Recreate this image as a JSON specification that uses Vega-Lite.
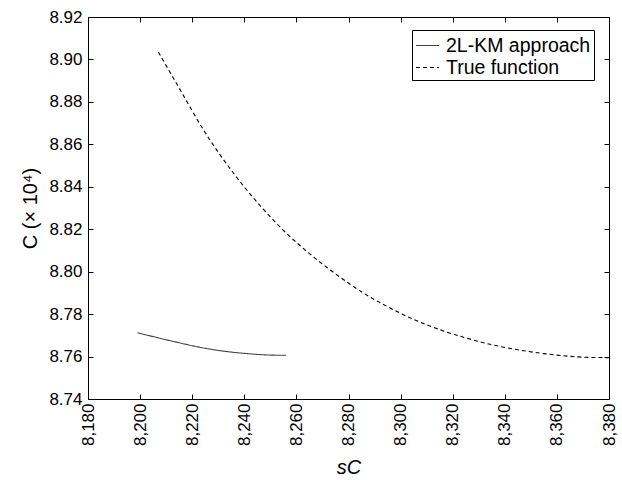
{
  "$schema": "https://vega.github.io/schema/vega-lite/v6.json",
  "width": 521,
  "height": 382,
  "autosize": "none",
  "padding": {"left": 88, "top": 17, "right": 13, "bottom": 81},
  "background": "white",
  "config": {
    "font": "Liberation Sans",
    "view": {"stroke": "black", "strokeWidth": 1},
    "axis": {"grid": false, "domain": false, "tickColor": "black", "labelColor": "black", "titleColor": "black", "labelFontSize": 17, "titleFontSize": 20, "titleFontWeight": "normal", "tickSize": -5, "labelFont": "Liberation Sans", "titleFont": "Liberation Sans"}
  },
  "data": {"values": [
    {"series": "2L-KM approach", "s": 8199, "c": 8.7712},
    {"series": "2L-KM approach", "s": 8205, "c": 8.7694},
    {"series": "2L-KM approach", "s": 8210, "c": 8.7679},
    {"series": "2L-KM approach", "s": 8215, "c": 8.7665},
    {"series": "2L-KM approach", "s": 8220, "c": 8.7651},
    {"series": "2L-KM approach", "s": 8225, "c": 8.7639},
    {"series": "2L-KM approach", "s": 8230, "c": 8.7629},
    {"series": "2L-KM approach", "s": 8235, "c": 8.7621},
    {"series": "2L-KM approach", "s": 8240, "c": 8.7615},
    {"series": "2L-KM approach", "s": 8245, "c": 8.7610},
    {"series": "2L-KM approach", "s": 8250, "c": 8.7607},
    {"series": "2L-KM approach", "s": 8256, "c": 8.7606},
    {"series": "True function", "s": 8207, "c": 8.9035},
    {"series": "True function", "s": 8215, "c": 8.8865},
    {"series": "True function", "s": 8225, "c": 8.8655},
    {"series": "True function", "s": 8235, "c": 8.8478},
    {"series": "True function", "s": 8245, "c": 8.8326},
    {"series": "True function", "s": 8255, "c": 8.8195},
    {"series": "True function", "s": 8265, "c": 8.8085},
    {"series": "True function", "s": 8275, "c": 8.7990},
    {"series": "True function", "s": 8285, "c": 8.7905},
    {"series": "True function", "s": 8295, "c": 8.7835},
    {"series": "True function", "s": 8305, "c": 8.7775},
    {"series": "True function", "s": 8315, "c": 8.7727},
    {"series": "True function", "s": 8325, "c": 8.7688},
    {"series": "True function", "s": 8335, "c": 8.7656},
    {"series": "True function", "s": 8345, "c": 8.7632},
    {"series": "True function", "s": 8355, "c": 8.7614},
    {"series": "True function", "s": 8365, "c": 8.7601},
    {"series": "True function", "s": 8372, "c": 8.7596},
    {"series": "True function", "s": 8380, "c": 8.7595}
  ]},
  "layer": [
    {
      "mark": {"type": "line", "strokeWidth": 1.1, "interpolate": "monotone", "clip": true},
      "encoding": {
        "x": {"field": "s", "type": "quantitative", "scale": {"domain": [8180, 8380], "nice": false, "zero": false},
          "axis": {"orient": "bottom", "values": [8180,8200,8220,8240,8260,8280,8300,8320,8340,8360,8380], "labelAngle": -90, "labelExpr": "format(datum.value, ',')", "labelPadding": 9, "title": "sC", "titleFontStyle": "italic", "titlePadding": 12}},
        "y": {"field": "c", "type": "quantitative", "scale": {"domain": [8.74, 8.92], "nice": false, "zero": false},
          "axis": {"orient": "left", "values": [8.74,8.76,8.78,8.80,8.82,8.84,8.86,8.88,8.90,8.92], "format": ".2f", "labelPadding": 11, "title": "C (× 10⁴)", "titlePadding": 8}},
        "color": {"field": "series", "type": "nominal", "scale": {"range": ["#444444", "#000000"]},
          "legend": {"title": null, "orient": "none", "legendX": 324, "legendY": 13, "symbolType": "stroke", "symbolSize": 529, "symbolStrokeWidth": 1.1, "labelFontSize": 19.5, "labelFont": "Liberation Sans", "labelColor": "black", "strokeColor": "black", "fillColor": "white", "padding": 3, "rowPadding": 0, "labelOffset": 6, "labelLimit": 300}},
        "strokeDash": {"field": "series", "type": "nominal", "scale": {"range": [[1, 0], [4, 3]]}}
      }
    },
    {
      "mark": {"type": "rule", "opacity": 0},
      "encoding": {
        "x": {"datum": 8180, "type": "quantitative", "scale": {"domain": [8180, 8380], "nice": false, "zero": false},
          "axis": {"orient": "top", "values": [8180,8200,8220,8240,8260,8280,8300,8320,8340,8360,8380], "labels": false, "title": null}},
        "y": {"datum": 8.74, "type": "quantitative", "scale": {"domain": [8.74, 8.92], "nice": false, "zero": false},
          "axis": {"orient": "right", "values": [8.74,8.76,8.78,8.80,8.82,8.84,8.86,8.88,8.90,8.92], "labels": false, "title": null}}
      }
    }
  ],
  "resolve": {"scale": {"x": "shared", "y": "shared"}, "axis": {"x": "independent", "y": "independent"}}
}
